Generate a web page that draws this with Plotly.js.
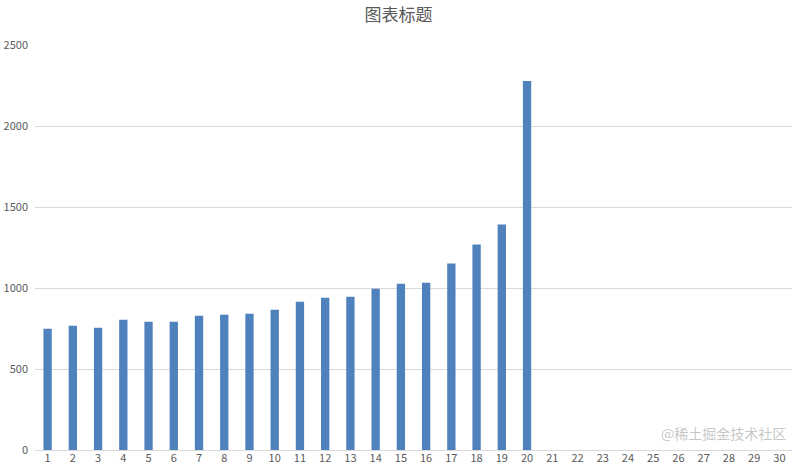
<!DOCTYPE html>
<html>
<head>
<meta charset="utf-8">
<script src="https://cdn.plot.ly/plotly-3.0.1.min.js"></script>
<style>
  html, body { margin: 0; padding: 0; background: #fff; }
  #chart { width: 797px; height: 476px; }
</style>
</head>
<body>
<div id="chart"></div>
<script>
// Data

const categories = [];
for (let i = 1; i <= 30; i++) categories.push(String(i));

const values = [
  748, 767, 755, 804, 792, 792, 829, 835, 841, 866,
  915, 940, 946, 996, 1027, 1033, 1151, 1268, 1392, 2278,
  null, null, null, null, null, null, null, null, null, null,
];

const yTicks = [0, 500, 1000, 1500, 2000, 2500];

// Chart

const textGrey = "#595959";
const font = "'Noto Sans CJK SC', 'Noto Sans', sans-serif";

const data = [
  {
    x: categories,
    y: values,
    type: "bar",
    width: 0.33,
    marker: { color: "#4F81BD" },
    hoverinfo: "x+y",
  },
];

const layout = {
  width: 797,
  height: 476,
  paper_bgcolor: "#ffffff",
  plot_bgcolor: "#ffffff",
  font: { family: font, color: textGrey, size: 11 },
  title: {
    text: "图表标题",
    font: { family: font, size: 17, color: textGrey },
    x: 0.5,
    xanchor: "center",
    y: 0.98,
    yanchor: "top",
  },
  showlegend: false,
  bargap: 0.67,
  margin: { l: 35, r: 5, t: 45, b: 26 },
  xaxis: {
    type: "category",
    tickvals: categories,
    ticktext: categories,
    showgrid: false,
    zeroline: false,
    showline: false,
    ticks: "",
    tickfont: { size: 11, color: textGrey },
  },
  yaxis: {
    range: [0, 2500],
    tickvals: yTicks,
    ticktext: yTicks.map(String),
    showgrid: true,
    gridcolor: "#d9d9d9",
    gridwidth: 1,
    zeroline: true,
    zerolinecolor: "#d9d9d9",
    zerolinewidth: 1,
    showline: false,
    ticks: "",
    ticklabelstandoff: 6,
    tickfont: { size: 11, color: textGrey },
  },
  annotations: [
    {
      // watermark, kept just above the baseline so it does not hide the labels
      text: "@稀土掘金技术社区",
      xref: "paper",
      yref: "paper",
      x: 0.995,
      y: 0.012,
      xanchor: "right",
      yanchor: "bottom",
      showarrow: false,
      font: { family: font, size: 14, color: "rgba(150,150,150,0.55)" },
    },
  ],
};

Plotly.newPlot("chart", data, layout, {
  displayModeBar: false,
  staticPlot: true,
});
</script>
</body>
</html>
